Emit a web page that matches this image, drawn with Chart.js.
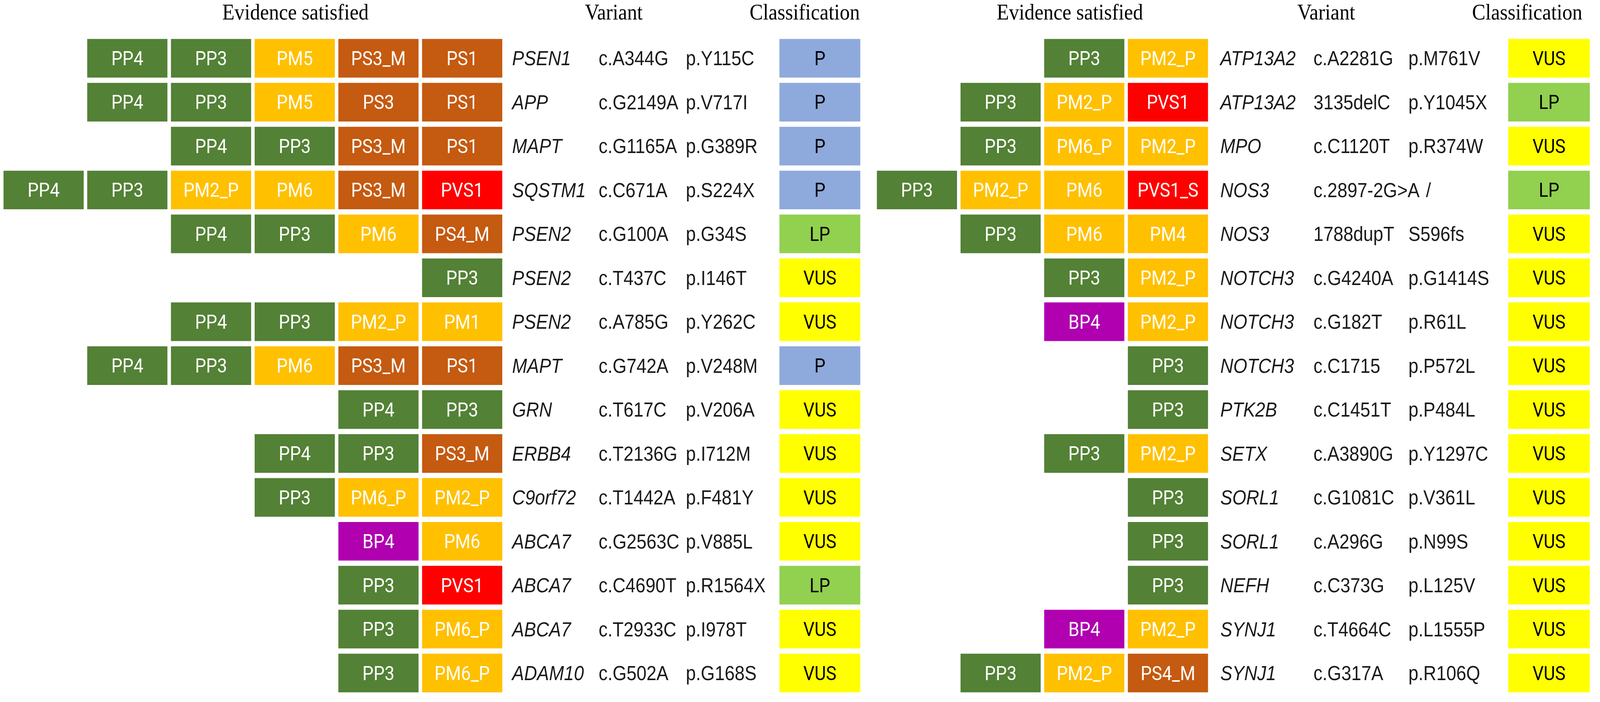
<!DOCTYPE html>
<html>
<head>
<meta charset="utf-8">
<script src="https://cdn.jsdelivr.net/npm/chart.js@4.4.1/dist/chart.umd.min.js"></script>
<style>
  html, body { margin: 0; padding: 0; background: #ffffff; overflow: hidden; }
  #wrap { position: relative; background: #ffffff; overflow: hidden; }
  .panel { position: absolute; top: 0; }
  canvas { display: block; }
</style>
</head>
<body>
<div id="wrap">
  <div class="panel" id="leftPanel"><canvas id="leftChart"></canvas></div>
  <div class="panel" id="rightPanel"><canvas id="rightChart"></canvas></div>
</div>
<script>
// ---------------- DATA ----------------
const headers = ["Evidence satisfied", "Variant", "Classification"];

// Left panel
const leftGenes = ["PSEN1", "APP", "MAPT", "SQSTM1", "PSEN2", "PSEN2", "PSEN2", "MAPT", "GRN", "ERBB4", "C9orf72", "ABCA7", "ABCA7", "ABCA7", "ADAM10"];
const leftCdna = ["c.A344G", "c.G2149A", "c.G1165A", "c.C671A", "c.G100A", "c.T437C", "c.A785G", "c.G742A", "c.T617C", "c.T2136G", "c.T1442A", "c.G2563C", "c.C4690T", "c.T2933C", "c.G502A"];
const leftProtein = ["p.Y115C", "p.V717I", "p.G389R", "p.S224X", "p.G34S", "p.I146T", "p.Y262C", "p.V248M", "p.V206A", "p.I712M", "p.F481Y", "p.V885L", "p.R1564X", "p.I978T", "p.G168S"];
const leftClass = ["P", "P", "P", "P", "LP", "VUS", "VUS", "P", "VUS", "VUS", "VUS", "VUS", "LP", "VUS", "VUS"];
const leftEvidence = [
  ["PP4", "PP3", "PM5", "PS3_M", "PS1"],
  ["PP4", "PP3", "PM5", "PS3", "PS1"],
  ["PP4", "PP3", "PS3_M", "PS1"],
  ["PP4", "PP3", "PM2_P", "PM6", "PS3_M", "PVS1"],
  ["PP4", "PP3", "PM6", "PS4_M"],
  ["PP3"],
  ["PP4", "PP3", "PM2_P", "PM1"],
  ["PP4", "PP3", "PM6", "PS3_M", "PS1"],
  ["PP4", "PP3"],
  ["PP4", "PP3", "PS3_M"],
  ["PP3", "PM6_P", "PM2_P"],
  ["BP4", "PM6"],
  ["PP3", "PVS1"],
  ["PP3", "PM6_P"],
  ["PP3", "PM6_P"]
];

// Right panel
const rightGenes = ["ATP13A2", "ATP13A2", "MPO", "NOS3", "NOS3", "NOTCH3", "NOTCH3", "NOTCH3", "PTK2B", "SETX", "SORL1", "SORL1", "NEFH", "SYNJ1", "SYNJ1"];
const rightCdna = ["c.A2281G", "3135delC", "c.C1120T", "c.2897-2G>A", "1788dupT", "c.G4240A", "c.G182T", "c.C1715", "c.C1451T", "c.A3890G", "c.G1081C", "c.A296G", "c.C373G", "c.T4664C", "c.G317A"];
const rightProtein = ["p.M761V", "p.Y1045X", "p.R374W", "/", "S596fs", "p.G1414S", "p.R61L", "p.P572L", "p.P484L", "p.Y1297C", "p.V361L", "p.N99S", "p.L125V", "p.L1555P", "p.R106Q"];
const rightClass = ["VUS", "LP", "VUS", "LP", "VUS", "VUS", "VUS", "VUS", "VUS", "VUS", "VUS", "VUS", "VUS", "VUS", "VUS"];
const rightEvidence = [
  ["PP3", "PM2_P"],
  ["PP3", "PM2_P", "PVS1"],
  ["PP3", "PM6_P", "PM2_P"],
  ["PP3", "PM2_P", "PM6", "PVS1_S"],
  ["PP3", "PM6", "PM4"],
  ["PP3", "PM2_P"],
  ["BP4", "PM2_P"],
  ["PP3"],
  ["PP3"],
  ["PP3", "PM2_P"],
  ["PP3"],
  ["PP3"],
  ["PP3"],
  ["BP4", "PM2_P"],
  ["PP3", "PM2_P", "PS4_M"]
];

// ---------------- STYLE / LAYOUT ----------------
const BASE_W = 4550, BASE_H = 1798, SPLIT = 2470;
const vw = window.innerWidth || BASE_W, vh = window.innerHeight || BASE_H;
const SX = vw / BASE_W, SY = vh / BASE_H;
const KX = SX / SY;   // horizontal squeeze for text

const wrap = document.getElementById('wrap');
wrap.style.width = vw + 'px';
wrap.style.height = vh + 'px';
const lp = document.getElementById('leftPanel'), rp = document.getElementById('rightPanel');
const splitPx = Math.round(SPLIT * SX);
lp.style.left = '0px';
rp.style.left = splitPx + 'px';
const lc = document.getElementById('leftChart'), rc = document.getElementById('rightChart');
lc.width = splitPx; lc.height = vh;
rc.width = vw - splitPx; rc.height = vh;

function codeColor(c) {
  if (c.startsWith("PVS")) return "#FF0000";
  if (c.startsWith("PS")) return "#C55A11";
  if (c.startsWith("PM")) return "#FFC000";
  if (c.startsWith("PP")) return "#538135";
  if (c.startsWith("BP")) return "#B000B0";
  return "#999999";
}
const classColors = { "P": "#8EA9DB", "LP": "#92D050", "VUS": "#FFFF00" };

const GAP = 0.021;  // half gap between boxes, in slot units

const leftLayout = {
  min: -6.021, max: 4.357,
  geneX: 0.097, cdnaX: 1.130, protX: 2.172,
  classStart: 3.290, classWidth: 0.966,
  headerX: [-2.492, 1.311, 3.592]
};
const rightLayout = {
  min: -4.076, max: 4.664,
  geneX: 0.126, cdnaX: 1.239, protX: 2.374,
  classStart: 3.567, classWidth: 0.975,
  headerX: [-1.672, 1.391, 3.794]
};

function py(v) { return v * SY; }

function drawText(ctx, txt, x, y, align) {
  ctx.save();
  ctx.translate(x, y);
  ctx.scale(KX, 1);
  ctx.textAlign = align;
  ctx.textBaseline = "alphabetic";
  ctx.fillText(txt, 0, 0);
  ctx.restore();
}

const textPlugin = {
  id: 'tableText',
  afterDatasetsDraw(chart) {
    const ctx = chart.ctx;
    const xs = chart.scales.x, ys = chart.scales.y;
    const p = chart.options.plugins.tableText;
    ctx.save();
    // labels inside boxes
    const boxFont = py(50);
    chart.data.datasets.forEach((ds, di) => {
      const meta = chart.getDatasetMeta(di);
      meta.data.forEach((el, idx) => {
        const code = ds.codes[idx];
        if (!code || ds.data[idx] == null) return;
        const pr = el.getProps(['x', 'y', 'base'], true);
        const cx = (pr.x + pr.base) / 2;
        ctx.font = boxFont + "px Roboto";
        ctx.fillStyle = ds.textColor;
        drawText(ctx, code, cx, pr.y + 0.355 * boxFont, "center");
      });
    });
    // variant text
    ctx.fillStyle = "#1a1a1a";
    const vf = py(51);
    const minGap = py(18) * KX;
    p.genes.forEach((g, i) => {
      const y = ys.getPixelForValue(i) + 0.358 * vf;
      ctx.font = "italic " + py(51) + "px 'Liberation Sans'";
      drawText(ctx, g, xs.getPixelForValue(p.layout.geneX), y, "left");
      ctx.font = vf + "px 'Liberation Sans'";
      const cx0 = xs.getPixelForValue(p.layout.cdnaX);
      drawText(ctx, p.cdna[i], cx0, y, "left");
      const cEnd = cx0 + ctx.measureText(p.cdna[i]).width * KX;
      const px0 = Math.max(xs.getPixelForValue(p.layout.protX), cEnd + minGap);
      drawText(ctx, p.protein[i], px0, y, "left");
    });
    // headers
    ctx.fillStyle = "#000000";
    ctx.font = py(57) + "px 'Liberation Serif'";
    headers.forEach((h, k) => {
      drawText(ctx, h, xs.getPixelForValue(p.layout.headerX[k]), py(50), "center");
    });
    ctx.restore();
  }
};

function buildPanel(canvas, evidence, genes, cdna, protein, classes, layout) {
  const maxSlots = Math.max(...evidence.map(e => e.length));
  const datasets = [];
  for (let j = 0; j < maxSlots; j++) {
    const codes = evidence.map(row => {
      const k = row.length - 1 - j;
      return k >= 0 ? row[k] : null;
    });
    datasets.push({
      data: codes.map(c => c ? [-(j + 1) + GAP, -j - GAP] : null),
      backgroundColor: codes.map(c => c ? codeColor(c) : "rgba(0,0,0,0)"),
      codes: codes,
      textColor: "#FFFFFF"
    });
  }
  datasets.push({
    data: classes.map(() => [layout.classStart, layout.classStart + layout.classWidth]),
    backgroundColor: classes.map(c => classColors[c]),
    codes: classes,
    textColor: "#000000"
  });

  return new Chart(canvas, {
    type: 'bar',
    data: { labels: genes.map((g, i) => g + " " + cdna[i]), datasets },
    plugins: [textPlugin],
    options: {
      indexAxis: 'y',
      responsive: false,
      animation: false,
      layout: { padding: { top: py(93), bottom: py(18), left: 0, right: 0 } },
      datasets: { bar: { grouped: false, barPercentage: 0.88, categoryPercentage: 1.0, borderWidth: 0 } },
      scales: {
        x: { type: 'linear', min: layout.min, max: layout.max, display: false },
        y: { type: 'category', display: false, offset: true }
      },
      plugins: {
        legend: { display: false },
        tooltip: { enabled: false },
        title: { display: false },
        tableText: { genes, cdna, protein, layout }
      }
    }
  });
}

buildPanel(lc, leftEvidence, leftGenes, leftCdna, leftProtein, leftClass, leftLayout);
buildPanel(rc, rightEvidence, rightGenes, rightCdna, rightProtein, rightClass, rightLayout);
</script>
</body>
</html>
